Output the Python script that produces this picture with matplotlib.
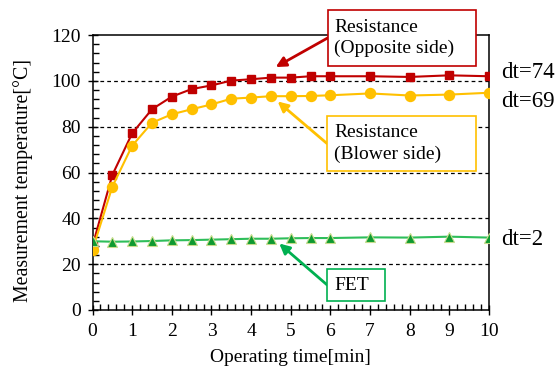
import matplotlib
matplotlib.use("Agg")
import matplotlib.pyplot as plt
from matplotlib.ticker import MultipleLocator
from matplotlib.patches import Rectangle

plt.rcParams['font.family'] = ['Liberation Serif', 'DejaVu Serif']

time_min = [0, 0.5, 1, 1.5, 2, 2.5, 3, 3.5, 4, 4.5, 5, 5.5, 6, 7, 8, 9, 10]
res_opposite = [28, 58.9, 77.1, 87.6, 93.1, 96.4, 98.0, 100.1, 100.7, 101.4, 101.4, 102.0, 102.0, 102.0, 101.7, 102.4, 102.0]
res_blower = [26.2, 53.8, 71.7, 81.7, 85.4, 87.6, 89.7, 92.2, 92.7, 93.3, 93.3, 93.4, 93.7, 94.5, 93.6, 94.0, 94.8]
fet = [30.0, 29.8, 29.9, 30.1, 30.4, 30.5, 30.7, 30.9, 31.1, 31.1, 31.3, 31.4, 31.4, 31.7, 31.6, 32.0, 31.6]

x_ticks = list(range(0, 11))
y_ticks = list(range(0, 121, 20))
grid_levels = [20, 40, 60, 80, 100]
dt_labels = ["dt=74", "dt=69", "dt=2"]
dt_y = [104.7, 92.1, 31.7]

RED = "#C00000"
YEL = "#FFC000"
GRN = "#00B050"

fig = plt.figure(figsize=(5.58, 3.71), dpi=100)
ax = fig.add_axes([92.5/558, 61/371, (489-92.5)/558, (310-35)/371])

for g in grid_levels:
    ax.axhline(g, color='black', lw=0.9, ls=(0, (3, 2.5)), zorder=1)

ax.plot(time_min, res_opposite, color=RED, lw=1.5, marker='s', ms=6.4,
        mfc=RED, mec=RED, zorder=3)
ax.plot(time_min, res_blower, color=YEL, lw=1.5, marker='o', ms=7.2,
        mfc=YEL, mec=YEL, zorder=3)
ax.plot(time_min, fet, color="#2EBE5A", lw=1.5, marker='^', ms=7.2,
        mfc="#0E9A30", mec="#C8DC8C", mew=0.8, zorder=3)

ax.set_xlim(0, 10)
ax.set_ylim(0, 120)
ax.set_xticks(x_ticks)
ax.set_yticks(y_ticks)
ax.xaxis.set_minor_locator(MultipleLocator(0.2))
ax.yaxis.set_minor_locator(MultipleLocator(4))
ax.tick_params(axis='both', which='major', direction='inout', length=7, width=1,
               labelsize=14, colors='black', pad=5)
ax.tick_params(axis='both', which='minor', direction='in', length=4, width=1)
ax.tick_params(axis='x', which='major', pad=6)
for s in ax.spines.values():
    s.set_linewidth(1.1)

ax.set_xlabel("Operating time[min]", fontsize=14, labelpad=6)
fig.text(23.5/558, 1 - 181/371, "Measurement temperature[°C]", fontsize=14.3,
         rotation=90, ha='center', va='center')

for lab, yv in zip(dt_labels, dt_y):
    ax.text(10.3, yv, lab, fontsize=16.5, va='center_baseline', ha='left', clip_on=False)

# annotation boxes: (x0, y0, x1, y1) in data units, colour, text, text anchor, arrow start, arrow tip
boxes = [
    ((5.93, 106.5, 9.66, 130.9), RED, "Resistance\n(Opposite side)", (6.1, 118.6), (5.93, 118.7), (4.62, 106.0)),
    ((5.91, 60.8, 9.66, 84.65), YEL, "Resistance\n(Blower side)", (6.1, 72.6), (5.91, 72.7), (4.67, 91.0)),
    ((5.92, 4.06, 7.37, 17.76), GRN, "FET", (6.1, 10.9), (5.92, 10.9), (4.71, 29.0)),
]
for (x0, y0, x1, y1), col, txt, tpos, start, tip in boxes:
    ax.add_patch(Rectangle((x0, y0), x1 - x0, y1 - y0, fc='white', ec=col, lw=1.2,
                           zorder=5, clip_on=False))
    ax.text(tpos[0], tpos[1], txt, fontsize=14, va='center', ha='left',
            linespacing=1.3, zorder=6, clip_on=False)
    ax.annotate("", xy=tip, xytext=start,
                arrowprops=dict(arrowstyle='-|>', color=col, lw=2, shrinkA=0, shrinkB=0,
                                mutation_scale=15),
                annotation_clip=False, zorder=4)

fig.savefig("out.png", dpi=100)
